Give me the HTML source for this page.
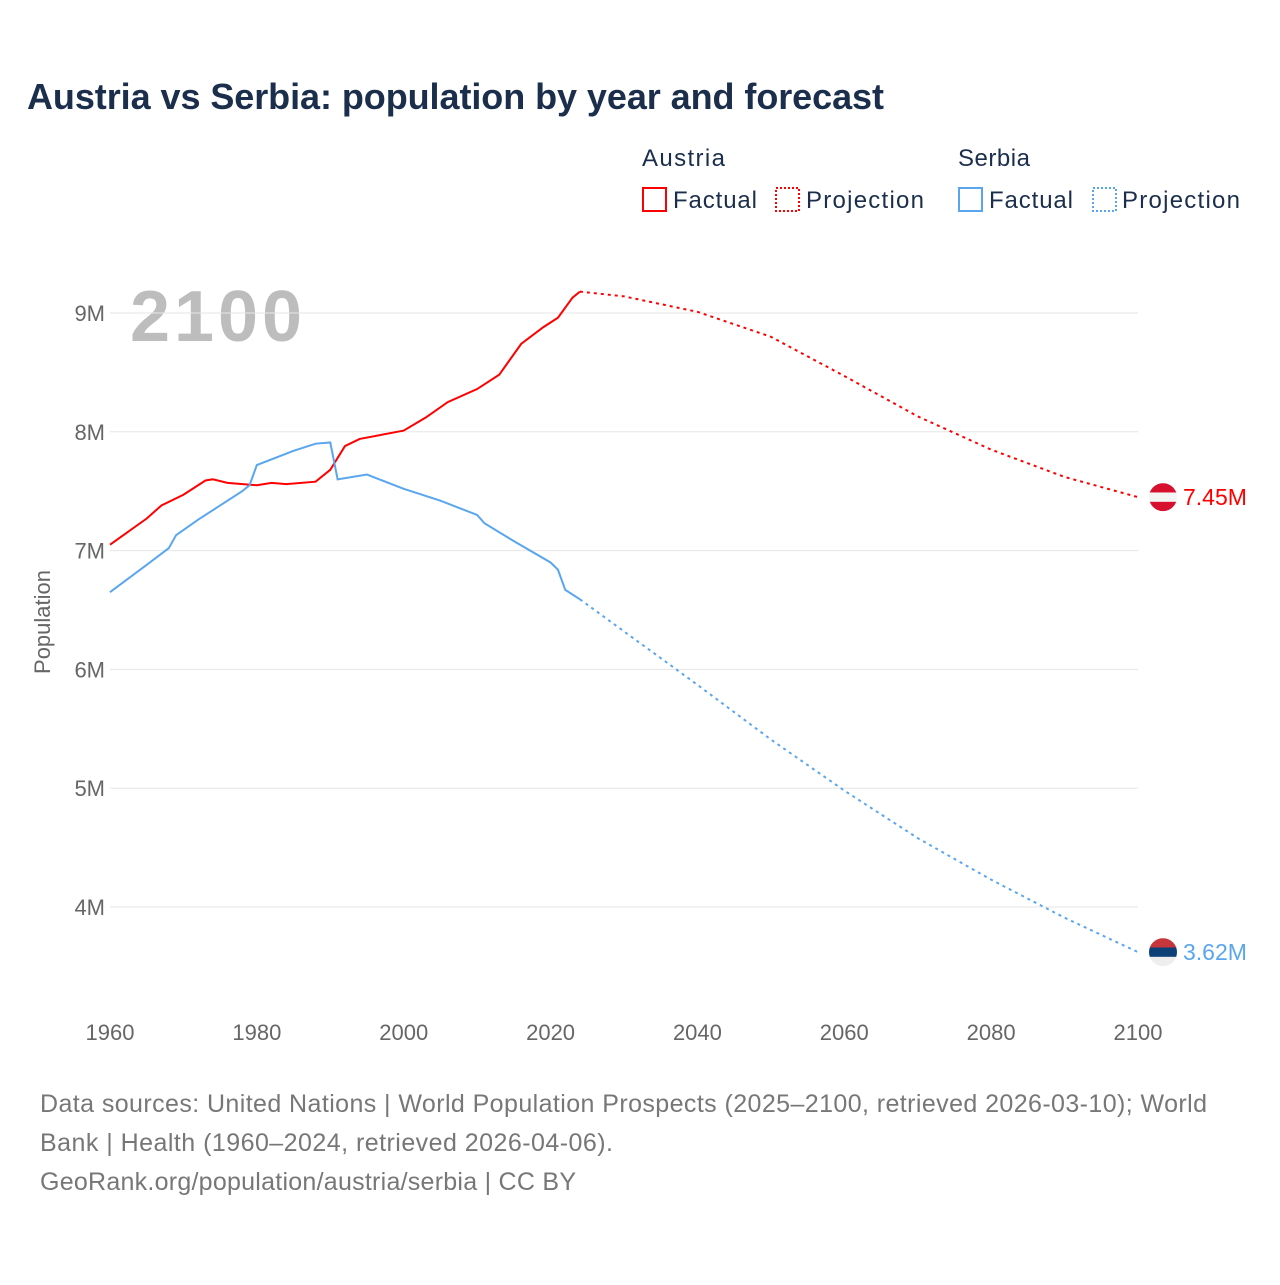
<!DOCTYPE html>
<html><head><meta charset="utf-8"><style>
body{margin:0;background:#fff;font-family:"Liberation Sans",sans-serif;}
svg text{font-family:"Liberation Sans",sans-serif;}
</style></head><body>
<svg id="chart" width="1280" height="1280" viewBox="0 0 1280 1280">
<text x="27" y="109" font-size="36" font-weight="bold" fill="#1b2e4b" textLength="857">Austria vs Serbia: population by year and forecast</text>
<g>
<text x="642" y="166" font-size="24" fill="#1b2e4b" textLength="83">Austria</text>
<text x="958" y="166" font-size="24" fill="#1b2e4b" textLength="72">Serbia</text>
<rect x="643" y="188" width="23" height="23" fill="none" stroke="#f00" stroke-width="2"/>
<text x="673" y="208" font-size="24" fill="#1b2e4b" textLength="84">Factual</text>
<rect x="776" y="188" width="23" height="23" fill="none" stroke="#f00" stroke-width="2" stroke-dasharray="2,2"/>
<text x="806" y="208" font-size="24" fill="#1b2e4b" textLength="118">Projection</text>
<rect x="959" y="188" width="23" height="23" fill="none" stroke="#5aa6ee" stroke-width="2"/>
<text x="989" y="208" font-size="24" fill="#1b2e4b" textLength="84">Factual</text>
<rect x="1093" y="188" width="23" height="23" fill="none" stroke="#5aa6ee" stroke-width="2" stroke-dasharray="2,2"/>
<text x="1122" y="208" font-size="24" fill="#1b2e4b" textLength="118">Projection</text>
</g>
<text x="130" y="341" font-size="72" font-weight="bold" fill="#bdbdbd" textLength="172">2100</text>
<text transform="translate(50,622) rotate(-90)" text-anchor="middle" font-size="22" fill="#666">Population</text>
<g id="grid"></g><g id="marks"></g>
<text x="40" y="1112" font-size="25" fill="#777" textLength="1167">Data sources: United Nations | World Population Prospects (2025–2100, retrieved 2026-03-10); World</text>
<text x="40" y="1151" font-size="25" fill="#777" textLength="573">Bank | Health (1960–2024, retrieved 2026-04-06).</text>
<text x="40" y="1190" font-size="25" fill="#777" textLength="536">GeoRank.org/population/austria/serbia | CC BY</text>
</svg>
<script>
const xTicks=[1960,1980,2000,2020,2040,2060,2080,2100];
const yTicks=[4,5,6,7,8,9];
const austriaYears=[1960,1965,1967,1970,1973,1974,1976,1980,1982,1984,1988,1990,1992,1994,2000,2003,2006,2010,2013,2016,2019,2021,2023,2024];
const austriaValues=[7.05,7.27,7.38,7.47,7.59,7.60,7.57,7.55,7.57,7.56,7.58,7.68,7.88,7.94,8.01,8.12,8.25,8.36,8.48,8.74,8.88,8.96,9.13,9.18];
const austriaProjYears=[2024,2030,2040,2050,2060,2070,2080,2090,2100];
const austriaProjValues=[9.18,9.14,9.01,8.80,8.47,8.13,7.85,7.62,7.45];
const serbiaYears=[1960,1965,1968,1969,1972,1975,1978,1979,1980,1985,1988,1990,1991,1995,2000,2005,2010,2011,2015,2020,2021,2022,2024];
const serbiaValues=[6.65,6.88,7.02,7.13,7.26,7.38,7.50,7.55,7.72,7.84,7.90,7.91,7.60,7.64,7.52,7.42,7.30,7.23,7.08,6.90,6.84,6.67,6.59];
const serbiaProjYears=[2024,2030,2040,2050,2060,2070,2080,2090,2100];
const serbiaProjValues=[6.59,6.32,5.87,5.41,4.98,4.58,4.23,3.91,3.62];
const NS='http://www.w3.org/2000/svg';
const x=y=>110+(y-1960)*(1138-110)/140;
const yv=v=>907-(v-4)*118.8;
const grid=document.getElementById('grid'),marks=document.getElementById('marks');
function mk(tag,attrs,parent){const e=document.createElementNS(NS,tag);for(const k in attrs)e.setAttribute(k,attrs[k]);parent.appendChild(e);return e;}
yTicks.forEach(t=>{
 const l=mk('line',{x1:110,x2:1138,y1:yv(t),y2:yv(t),stroke:'#e6e6e6'},grid);
 
 
 const tx=mk('text',{x:105,y:yv(t)+8,'text-anchor':'end','font-size':22,fill:'#666'},grid);
 tx.textContent=t+'M';
 
 
});
xTicks.forEach(t=>{
 const tx=mk('text',{x:x(t),y:1040,'text-anchor':'middle','font-size':22,fill:'#666'},grid);
 tx.textContent=t;
 
 
});
function line(ys,vs,color,dash,name){
 const p=mk('path',{d:ys.map((yr,i)=>(i?'L':'M')+x(yr)+','+yv(vs[i])).join(''),fill:'none',stroke:color,'stroke-width':2,'stroke-dasharray':dash},marks);
 
 
}
line(austriaYears,austriaValues,'#f00','none','austria-factual-line');
line(austriaProjYears,austriaProjValues,'#f00','3,4','austria-projection-line');
line(serbiaYears,serbiaValues,'#5aa6ee','none','serbia-factual-line');
line(serbiaProjYears,serbiaProjValues,'#5aa6ee','3,4','serbia-projection-line');
function endLabel(v,color,name,flag){
 const cy=yv(v);
 const g=mk('g',{},marks);
 
 
 const cp=mk('clipPath',{id:name+'clip'},g);mk('circle',{cx:1163,cy:cy,r:14},cp);
 const gg=mk('g',{'clip-path':'url(#'+name+'clip)'},g);
 flag.forEach((c,i)=>mk('rect',{x:1149,y:cy-14+i*28/3,width:28,height:28/3+0.5,fill:c},gg));
 const t=mk('text',{x:1183,y:cy+8,'font-size':23,fill:color},marks);
 t.textContent=v.toFixed(2)+'M';
 
 
}
endLabel(austriaProjValues[austriaProjValues.length-1],'#f00','austria',['#d8102f','#f5f5f5','#d8102f']);
endLabel(serbiaProjValues[serbiaProjValues.length-1],'#5aa6ee','serbia',['#c6363c','#0c4076','#eeeeee']);
</script>
</body></html>
